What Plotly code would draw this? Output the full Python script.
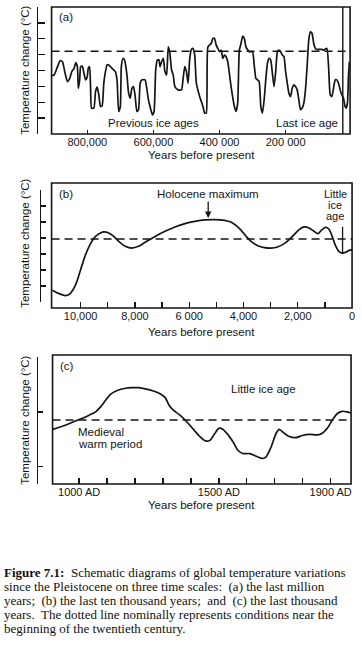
import plotly.graph_objects as go

# ---------------- DATA ----------------
# Panel (a): last ~million years (thousands of years before present), relative temperature units
years_a_kyr = [908, 900, 890, 882, 875, 867, 860, 853, 847, 840, 835, 830, 827, 823, 820, 815, 810, 805, 800, 797,
               793, 790, 787, 780, 775, 770, 765, 760, 755, 750, 745, 740, 735, 725, 715, 710, 705, 700, 697, 692,
               687, 680, 675, 670, 665, 660, 655, 650, 645, 640, 635, 625, 620, 615, 610, 603, 598, 593, 588, 583,
               580, 575, 570, 565, 560, 555, 550, 545, 540, 535, 525, 515, 510, 505, 500, 495, 490, 485, 480, 475,
               470, 460, 450, 445, 440, 435, 425, 420, 415, 410, 405, 400, 395, 390, 385, 380, 375, 365, 355, 350,
               345, 340, 335, 330, 325, 320, 310, 300, 295, 290, 285, 280, 275, 270, 265, 260, 255, 250, 245, 240,
               235, 230, 225, 220, 215, 210, 205, 200, 195, 190, 185, 180, 175, 170, 165, 160, 155, 150, 145, 140,
               135, 130, 125, 120, 115, 110, 105, 95, 90, 85, 80, 75, 70, 65, 60, 55, 50, 45, 40, 35,
               30, 25, 20, 17, 13, 10, 7]
temp_a = [-1.34, -1.28, -0.76, -0.38, -0.45, -1.18, -1.70, -1.49, -1.07, -0.86, -0.51, -0.76, -2.12, -1.59, -0.76, -0.72, -1.18, -1.59, -1.39, -0.86,
          -0.76, -2.12, -3.37, -3.37, -2.33, -2.05, -2.53, -3.27, -3.22, -1.80, -1.07, -0.65, -0.65, -0.86, -1.07, -1.59, -3.58, -3.27, -0.76, -0.24,
          -0.34, -1.28, -2.43, -2.74, -2.12, -2.01, -2.64, -3.58, -3.47, -1.80, -1.59, -1.59, -2.12, -2.85, -3.27, -3.79, -3.58, -0.97, -0.34, -0.34,
          -0.76, -0.45, -0.24, -1.07, -1.28, 0.49, 0.08, -0.97, -1.28, -2.01, -2.22, -2.22, -1.49, -0.76, -1.07, -1.80, -0.24, 0.33, 0.39, -0.03,
          -1.80, -2.64, -3.27, -3.68, -3.68, 0.49, 0.70, 1.02, 1.02, 0.60, 0.39, 0.18, 0.28, -0.24, -0.03, -0.13, -0.45, -2.01, -3.27, -3.58,
          -3.06, 0.28, 0.70, 1.16, 1.02, 0.49, 0.18, 0.18, -0.65, -1.49, -1.59, -1.70, -3.27, -3.68, -2.85, -1.59, -0.55, -0.24, -0.34, -1.18,
          -2.01, -1.07, 0.18, 0.28, 0.18, -0.03, -0.13, -1.07, -1.80, -2.43, -2.64, -2.12, -1.91, -2.01, -2.22, -2.85, -3.47, -3.37, -3.06, -2.22,
          -0.76, 0.91, 1.43, 1.33, 0.70, 0.39, 0.33, 0.33, 0.33, 0.28, 0.35, 0.39, -0.76, -2.53, -2.64, -2.12, -1.59, -1.59, -1.80, -2.22,
          -2.53, -2.74, -3.27, -3.37, -3.06, -1.39, -0.45, -0.24]
baseline_a = 0.22
marker_a_kyr = 27
xticks_a = [800, 600, 400, 200]
xticktext_a = ["800,000", "600,000", "400 000", "200 000"]

# Panel (b): last ~11,000 years
years_b = [11037, 10793, 10549, 10366, 10183, 10000, 9817, 9634, 9451, 9268, 9146, 8963, 8780, 8598, 8354, 8110,
           7866, 7622, 7256, 6890, 6524, 6159, 5793, 5427, 5061, 4695, 4451, 4268, 4085, 3902, 3720, 3476, 3232,
           2988, 2744, 2500, 2317, 2134, 1951, 1768, 1585, 1402, 1256, 1134, 976, 854, 732, 610, 488, 366, 244, 122, 0]
temp_b = [-3.27, -3.48, -3.60, -3.44, -2.92, -1.98, -1.04, -0.35, 0.10, 0.31, 0.38, 0.31, 0.10, -0.21, -0.52, -0.63,
          -0.52, -0.27, 0.10, 0.42, 0.69, 0.90, 1.04, 1.13, 1.15, 1.10, 0.98, 0.77, 0.48, 0.10, -0.21, -0.48, -0.60,
          -0.63, -0.56, -0.35, -0.10, 0.21, 0.52, 0.69, 0.63, 0.42, 0.27, 0.48, 0.67, 0.56, 0.10, -0.48, -0.83, -0.94, -0.90, -0.79, -0.73]
baseline_b = -0.06
holocene_max_year = 5300
holocene_max_temp = 1.25
little_ice_age_year_b = 350
little_ice_age_span_b = [0.70, -0.95]
xticks_b = [10000, 9000, 8000, 7000, 6000, 5000, 4000, 3000, 2000, 1000, 0]
xticktext_b = ["10,000", "", "8,000", "", "6 000", "", "4,000", "", "2,000", "", "0"]

# Panel (c): last ~1000 years (calendar year AD)
years_c = [905, 953, 1000, 1036, 1059, 1077, 1095, 1112, 1136, 1166, 1189, 1213, 1237, 1266, 1290, 1308, 1322,
           1337, 1361, 1385, 1409, 1432, 1452, 1468, 1486, 1500, 1515, 1533, 1551, 1568, 1586, 1610, 1634, 1657,
           1669, 1687, 1705, 1716, 1734, 1752, 1776, 1799, 1823, 1853, 1870, 1888, 1906, 1924, 1941, 1959, 1973]
temp_c = [-0.32, -0.24, -0.14, -0.06, 0.00, 0.09, 0.21, 0.32, 0.39, 0.43, 0.44, 0.44, 0.42, 0.38, 0.33, 0.26, 0.12,
          0.03, -0.06, -0.18, -0.32, -0.45, -0.53, -0.52, -0.39, -0.30, -0.32, -0.42, -0.55, -0.70, -0.76, -0.76, -0.81, -0.85,
          -0.82, -0.64, -0.39, -0.32, -0.39, -0.45, -0.47, -0.43, -0.41, -0.42, -0.39, -0.30, -0.15, -0.03, 0.01, 0.00, -0.02]
baseline_c = -0.15
xticks_c = [1000, 1100, 1200, 1300, 1400, 1500, 1600, 1700, 1800, 1900]
xticktext_c = ["1000 AD", "", "", "", "", "1500 AD", "", "", "", "1900 AD"]

caption_lines = [
    "<b>Figure 7.1:</b>\u00a0 Schematic diagrams of global temperature variations",
    "since the Pleistocene on three time scales:\u00a0 (a) the last million",
    "years;\u00a0 (b) the last ten thousand years;\u00a0 and\u00a0 (c) the last thousand",
    "years.\u00a0 The dotted line nominally represents conditions near the",
    "beginning of the twentieth century.",
]

# ---------------- LAYOUT HELPERS ----------------
W, H = 362, 650
def px(x):
    return x / W
def py(y):
    return 1 - y / H

INK = "#151515"
SANS = "Liberation Sans, Arial, sans-serif"
SERIF = "Liberation Serif, Times New Roman, serif"
TICKF = dict(family=SANS, size=11, color=INK)

fig = go.Figure()
fig.add_trace(go.Scatter(x=years_a_kyr, y=temp_a, mode="lines",
                         line=dict(color=INK, width=1.7, shape="spline", smoothing=0.5),
                         xaxis="x", yaxis="y", hoverinfo="skip"))
fig.add_trace(go.Scatter(x=years_b, y=temp_b, mode="lines",
                         line=dict(color=INK, width=1.7, shape="spline", smoothing=0.8),
                         xaxis="x2", yaxis="y2", hoverinfo="skip"))
fig.add_trace(go.Scatter(x=years_c, y=temp_c, mode="lines",
                         line=dict(color=INK, width=1.7, shape="spline", smoothing=0.8),
                         xaxis="x3", yaxis="y3", hoverinfo="skip"))

def xax(domain, rng, tv, tt, anchor, ticklen):
    return dict(domain=domain, range=rng, tickvals=tv, ticktext=tt, anchor=anchor,
                ticks="inside", ticklen=ticklen, tickwidth=1.3, tickcolor=INK,
                showline=False, showgrid=False, zeroline=False, tickfont=TICKF, fixedrange=True)

def yax(domain, rng, tv, pos, ticklen):
    return dict(domain=domain, range=rng, tickvals=tv, anchor="free", position=pos,
                ticks="inside", ticklen=ticklen, tickwidth=1.4, tickcolor=INK,
                showline=True, linecolor=INK, linewidth=1.5,
                showticklabels=False, showgrid=False, zeroline=False, fixedrange=True)

layout = dict(
    width=W, height=H, autosize=False,
    margin=dict(l=0, r=0, t=0, b=0),
    paper_bgcolor="white", plot_bgcolor="white",
    showlegend=False,
    xaxis=xax([px(52), px(353)], [908, 5], xticks_a, xticktext_a, "y", 4),
    yaxis=yax([py(134), py(7)], [-5, 3], list(range(-5, 4)), px(37), 7),
    xaxis2=xax([px(52), px(355)], [11070, 0], xticks_b, xticktext_b, "free", 6),
    yaxis2=yax([py(302), py(190)], [-4, 3], list(range(-4, 4)), px(40), 5),
    xaxis3=xax([px(53), px(354)], [905, 1973], xticks_c, xticktext_c, "y3", 6),
    yaxis3=yax([py(484), py(357)], [-1.315, 1.0], [-1, 0, 1], px(37), 5),
)
layout["xaxis2"]["position"] = py(308)
fig.update_layout(**layout)

shapes = []
for (x0, y0, x1, y1) in [(52, 7, 353, 134), (52, 183, 355, 308), (53, 355, 354, 484)]:
    shapes.append(dict(type="rect", xref="paper", yref="paper", x0=px(x0), x1=px(x1), y0=py(y1), y1=py(y0),
                       line=dict(color=INK, width=1.6)))
dash = dict(color=INK, width=1.5, dash="8px,5px")
shapes.append(dict(type="line", xref="x domain", yref="y", x0=0, x1=1, y0=baseline_a, y1=baseline_a, line=dash))
shapes.append(dict(type="line", xref="x2 domain", yref="y2", x0=0, x1=1, y0=baseline_b, y1=baseline_b, line=dash))
shapes.append(dict(type="line", xref="x3 domain", yref="y3", x0=0, x1=1, y0=baseline_c, y1=baseline_c, line=dash))
shapes.append(dict(type="line", xref="x", yref="y domain", x0=marker_a_kyr, x1=marker_a_kyr, y0=0, y1=1,
                   line=dict(color=INK, width=1.4)))
shapes.append(dict(type="line", xref="x2", yref="y2", x0=little_ice_age_year_b, x1=little_ice_age_year_b,
                   y0=little_ice_age_span_b[0], y1=little_ice_age_span_b[1], line=dict(color=INK, width=1.3)))
fig.update_layout(shapes=shapes)

ann = []
def txt(x, y, s, size=11.5, xanchor="center", angle=0, font=None):
    ann.append(dict(xref="paper", yref="paper", x=px(x), y=py(y), text=s, showarrow=False,
                    xanchor=xanchor, yanchor="middle", textangle=angle,
                    font=font or dict(family=SANS, size=size, color=INK)))

txt(57, 17, "(a)", xanchor="left")
txt(57, 194, "(b)", xanchor="left")
txt(58, 366, "(c)", xanchor="left")
txt(25, 70, "Temperature change (°C)", angle=-90)
txt(25, 243, "Temperature change (°C)", angle=-90)
txt(25, 420, "Temperature change (°C)", angle=-90)
txt(203, 155, "Years before present")
txt(203, 332, "Years before present")
txt(203, 505, "Years before present")
txt(155, 123, "Previous ice ages")
txt(310, 123, "Last ice age")
txt(338, 194, "Little", size=11)
txt(338, 205, "ice", size=11)
txt(338, 216, "age", size=11)
txt(266, 389, "Little ice age")
txt(77, 432, "Medieval", xanchor="left")
txt(77, 444, "warm period", xanchor="left")
ann.append(dict(xref="x2", yref="y2", x=holocene_max_year, y=holocene_max_temp, text="Holocene maximum",
                showarrow=True, arrowhead=2, arrowsize=1, arrowwidth=1.3, arrowcolor=INK,
                ax=0, ay=-24, font=dict(family=SANS, size=11.5, color=INK)))
for i, line in enumerate(caption_lines):
    txt(2, 572 + 14 * i, line, xanchor="left", font=dict(family=SERIF, size=13, color="#111"))
fig.update_layout(annotations=ann)

fig.write_html("out.html", config={"displayModeBar": False, "staticPlot": True},
               post_script="document.body.style.margin='0';document.body.style.overflow='hidden';")
